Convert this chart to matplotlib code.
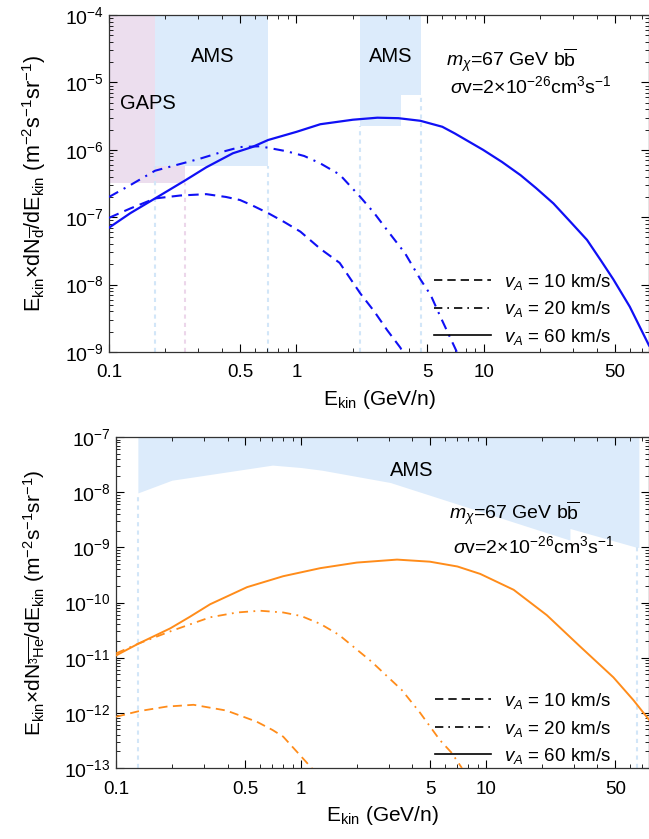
import matplotlib
matplotlib.use('Agg')
import matplotlib.pyplot as plt
from matplotlib.lines import Line2D
from matplotlib.ticker import FixedLocator, NullFormatter, LogLocator, LogFormatterSciNotation

plt.rcParams['font.family'] = ['Liberation Sans', 'DejaVu Sans']
plt.rcParams['mathtext.fontset'] = 'custom'
plt.rcParams['mathtext.rm'] = 'Liberation Sans'
plt.rcParams['mathtext.it'] = 'Liberation Sans:italic'
plt.rcParams['mathtext.bf'] = 'Liberation Sans:bold'

# ---- antideuteron (top) ----
d_E60 = [0.1, 0.13, 0.176, 0.254, 0.33, 0.458, 0.58, 0.706, 1.0, 1.34, 2.0, 2.7, 3.5, 4.58,
         6.0, 7.0, 9.9, 12.5, 15.7, 19, 23.5, 29, 35.5, 42, 49, 60, 76]
d_F60 = [7e-8, 1.15e-7, 1.9e-7, 3.5e-7, 5.5e-7, 8.9e-7, 1.1e-6, 1.4e-6, 1.85e-6, 2.4e-6,
         2.8e-6, 3.0e-6, 2.95e-6, 2.7e-6, 2.2e-6, 1.75e-6, 1.0e-6, 6.6e-7, 4.2e-7, 2.7e-7,
         1.6e-7, 8.5e-8, 4.6e-8, 2.3e-8, 1.2e-8, 4.7e-9, 1.25e-9]
d_E20 = [0.1, 0.13, 0.176, 0.306, 0.4, 0.5, 0.64, 0.89, 1.1, 1.34, 1.7, 2.19, 2.6, 3.05, 3.8,
         4.58, 5.2, 5.87, 7.06, 7.5]
d_F20 = [2e-7, 3e-7, 4.9e-7, 7.4e-7, 9.3e-7, 1.1e-6, 1.13e-6, 9.5e-7, 8.1e-7, 6.3e-7, 4.3e-7,
         2e-7, 1.15e-7, 6.4e-8, 2.9e-8, 1.2e-8, 7e-9, 3.3e-9, 1.1e-9, 7.6e-10]
d_E10 = [0.1, 0.13, 0.176, 0.24, 0.33, 0.42, 0.5, 0.58, 0.706, 0.86, 1.05, 1.34, 1.7, 2.19,
         2.6, 3.05, 3.59, 3.9]
d_F10 = [9.8e-8, 1.35e-7, 1.9e-7, 2.1e-7, 2.2e-7, 2.0e-7, 1.8e-7, 1.5e-7, 1.15e-7, 8.5e-8,
         6.1e-8, 3.4e-8, 2.1e-8, 7.4e-9, 4e-9, 2.1e-9, 1.15e-9, 7e-10]

# ---- antihelium-3 (bottom) ----
h_E60 = [0.1, 0.132, 0.196, 0.25, 0.322, 0.51, 0.80, 1.27, 2.0, 3.3, 4.97, 7.0, 9.3, 14.1,
         21.3, 32.2, 48.8, 62.6, 76]
h_F60 = [1.1e-11, 1.8e-11, 3.4e-11, 5.5e-11, 9.3e-11, 1.9e-10, 3.0e-10, 4.2e-10, 5.3e-10,
         6.0e-10, 5.5e-10, 4.5e-10, 3.3e-10, 1.7e-10, 5.9e-11, 1.6e-11, 4.4e-12, 1.7e-12, 7.5e-13]
h_E20 = [0.1, 0.132, 0.196, 0.322, 0.45, 0.60, 0.80, 1.0, 1.27, 1.6, 2.4, 3.5, 4.4, 5.63,
         6.5, 7.4]
h_F20 = [1.2e-11, 1.8e-11, 3e-11, 5.4e-11, 6.6e-11, 7.1e-11, 6.6e-11, 5.7e-11, 4.1e-11,
         2.6e-11, 8.5e-12, 2.6e-12, 1e-12, 3.2e-13, 1.9e-13, 1e-13]
h_E10 = [0.1, 0.132, 0.188, 0.262, 0.395, 0.576, 0.70, 0.80, 1.14, 1.2]
h_F10 = [8.5e-13, 1.07e-12, 1.3e-12, 1.4e-12, 1.1e-12, 6.9e-13, 4.9e-13, 3.7e-13, 1e-13, 8e-14]

# experiment sensitivity regions
gaps_x = [0.1, 0.254]
gaps_low = 3.2e-7
ams_d1_x = [0.176, 0.706]
ams_d1_low = 5.8e-7
ams_d2_x = [2.19, 3.62, 3.62, 4.64]
ams_d2_low = [2.24e-6, 2.24e-6, 6.5e-6, 6.5e-6]
ams_he_x = [0.131, 0.2, 0.7, 1.0, 1.3, 3.03, 28.4, 28.4, 65.3, 67]
ams_he_low = [9.7e-9, 1.65e-8, 3.1e-8, 2.8e-8, 2.5e-8, 1.5e-8, 1.35e-9, 2.2e-9, 1.0e-9, 1.0e-9]

xticks = [0.1, 0.5, 1, 5, 10, 50]
xticklabels = ['0.1', '0.5', '1', '5', '10', '50']
xminor = [0.2, 0.3, 0.4, 0.6, 0.7, 0.8, 0.9, 2, 3, 4, 6, 7, 8, 9, 20, 30, 40, 60, 70]

blue = '#1010f5'
orange = '#ff8c1a'
shade_blue = '#dcebfb'
shade_pink = '#ecdeee'
dot_blue = '#d2e6f8'
dot_pink = '#ecd6ea'

dash = (0, (5, 3))
dashdot = (0, (5, 3, 1, 3))

fig = plt.figure(figsize=(6.49, 8.39), dpi=100)
ax1 = fig.add_axes([0.168, 0.5805, 0.832, 0.4015])
ax2 = fig.add_axes([0.179, 0.0846, 0.821, 0.3945])


def style_axes(ax, ylim, leg_y):
    ax.set_xscale('log')
    ax.set_yscale('log')
    ax.set_xlim(0.1, 76)
    ax.set_ylim(*ylim)
    ax.xaxis.set_major_locator(FixedLocator(xticks))
    ax.set_xticklabels(xticklabels)
    ax.xaxis.set_minor_locator(FixedLocator(xminor))
    ax.xaxis.set_minor_formatter(NullFormatter())
    ax.yaxis.set_major_locator(LogLocator(base=10, numticks=20))
    ax.yaxis.set_major_formatter(LogFormatterSciNotation())
    ax.yaxis.set_minor_locator(LogLocator(base=10, subs=range(2, 10), numticks=20))
    ax.yaxis.set_minor_formatter(NullFormatter())
    ax.tick_params(which='both', direction='in', top=True, right=True)
    ax.tick_params(axis='x', which='major', labelsize=13.5, pad=9)
    ax.tick_params(axis='y', which='major', labelsize=14, pad=4)
    ax.tick_params(which='major', length=6, width=0.8)
    ax.tick_params(which='minor', length=3, width=0.6)
    for s in ax.spines.values():
        s.set_linewidth(0.9)
        s.set_color('#333333')
    ax.set_xlabel(r'E$_{\rm kin}$ (GeV/n)', fontsize=15, labelpad=5)
    leg_handles = [Line2D([], [], color='black', lw=1.2, linestyle=dash),
                   Line2D([], [], color='black', lw=1.2, linestyle=dashdot),
                   Line2D([], [], color='black', lw=1.2, linestyle='-')]
    ax.legend(leg_handles, [r'$v_A$ = 10 km/s', r'$v_A$ = 20 km/s', r'$v_A$ = 60 km/s'],
              loc='lower right', bbox_to_anchor=(0.96, leg_y), frameon=False,
              fontsize=13.5, handlelength=3.0, handletextpad=0.7, labelspacing=0.4)


# top panel
style_axes(ax1, (1e-9, 1e-4), -0.035)
ax1.fill_between(gaps_x, gaps_low, 1e-4, color=shade_pink, lw=0, zorder=0)
ax1.fill_between(ams_d1_x, ams_d1_low, 1e-4, color=shade_blue, lw=0, zorder=0)
ax1.fill_between(ams_d2_x, ams_d2_low, 1e-4, color=shade_blue, lw=0, zorder=0)
for xv, top, c in [(ams_d1_x[0], ams_d1_low, dot_blue), (gaps_x[1], gaps_low, dot_pink),
                   (ams_d1_x[1], ams_d1_low, dot_blue), (ams_d2_x[0], ams_d2_low[0], dot_blue),
                   (ams_d2_x[-1], ams_d2_low[-1], dot_blue)]:
    ax1.plot([xv, xv], [1e-9, top], color=c, lw=1.5, linestyle=(0, (2, 2)), zorder=1)
ax1.plot(d_E10, d_F10, color=blue, lw=1.5, linestyle=dash, zorder=3)
ax1.plot(d_E20, d_F20, color=blue, lw=1.5, linestyle=dashdot, zorder=3)
ax1.plot(d_E60, d_F60, color=blue, lw=1.6, zorder=3)
ax1.text(0.161, 4.9e-6, 'GAPS', fontsize=14.5, ha='center', va='center')
ax1.text(0.356, 2.4e-5, 'AMS', fontsize=14.5, ha='center', va='center')
ax1.text(3.17, 2.4e-5, 'AMS', fontsize=14.5, ha='center', va='center')
ax1.text(6.3, 2.1e-5, r'$m_\chi$=67 GeV b$\overline{\rm b}$', fontsize=14, va='center')
ax1.text(6.6, 8.8e-6, r'$\sigma$v=2×10$^{-26}$cm$^3$s$^{-1}$', fontsize=14, va='center')
ax1.set_ylabel(r'E$_{\rm kin}$×dN$_{\overline{\rm d}}$/dE$_{\rm kin}$ (m$^{-2}$s$^{-1}$sr$^{-1}$)',
               fontsize=15.5)
ax1.yaxis.set_label_coords(-0.113, 0.5)

# bottom panel
style_axes(ax2, (1e-13, 1e-7), -0.045)
ax2.fill_between(ams_he_x, ams_he_low, 1e-7, color=shade_blue, lw=0, zorder=0)
for xv, top in [(ams_he_x[0], ams_he_low[0]), (ams_he_x[-2], ams_he_low[-2])]:
    ax2.plot([xv, xv], [1e-13, top], color=dot_blue, lw=1.5, linestyle=(0, (2, 2)), zorder=1)
ax2.plot(h_E10, h_F10, color=orange, lw=1.3, linestyle=dash, zorder=3)
ax2.plot(h_E20, h_F20, color=orange, lw=1.3, linestyle=dashdot, zorder=3)
ax2.plot(h_E60, h_F60, color=orange, lw=1.4, zorder=3)
ax2.text(3.98, 2.5e-8, 'AMS', fontsize=14.5, ha='center', va='center')
ax2.text(6.3, 4.1e-9, r'$m_\chi$=67 GeV b$\overline{\rm b}$', fontsize=14, va='center')
ax2.text(6.6, 1.05e-9, r'$\sigma$v=2×10$^{-26}$cm$^3$s$^{-1}$', fontsize=14, va='center')
ax2.set_ylabel(r'E$_{\rm kin}$×dN$_{\overline{{}^{3}{\rm He}}}$/dE$_{\rm kin}$ (m$^{-2}$s$^{-1}$sr$^{-1}$)',
               fontsize=15)
ax2.yaxis.set_label_coords(-0.13, 0.5)

fig.savefig('out.png', dpi=100)
